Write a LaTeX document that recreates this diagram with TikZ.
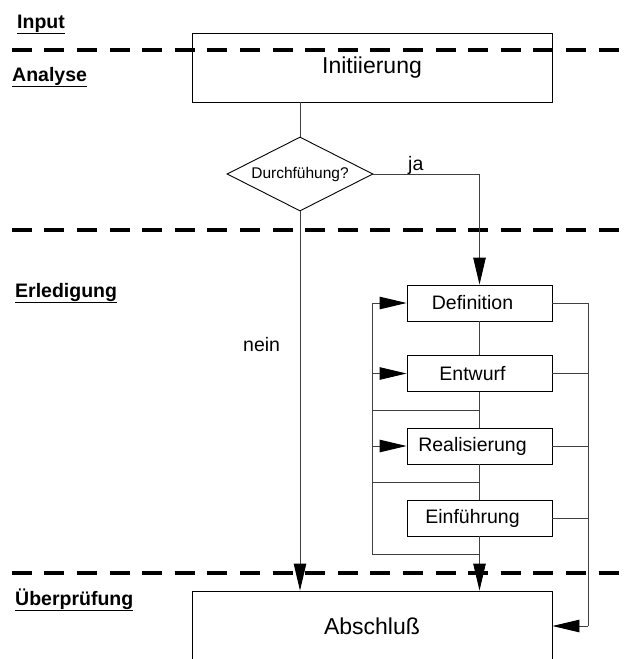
\documentclass[tikz,border=0pt]{standalone}
\usepackage{fontspec}
\setmainfont{Liberation Sans}
\usetikzlibrary{arrows.meta,shapes.geometric}
\begin{document}
\begin{tikzpicture}[x=1pt,y=-1pt,
  box/.style={draw=black,line width=0.9pt,inner sep=0pt,minimum width=145pt,minimum height=36pt},
  bigbox/.style={draw=black,line width=0.9pt,inner sep=0pt,minimum width=360pt,minimum height=69pt,
    font=\fontsize{23}{27}\selectfont},
  boxtext/.style={font=\fontsize{19.5}{22}\selectfont,inner sep=0pt,xshift=-7pt},
  conn/.style={draw=black!75,line width=0.9pt},
  arr/.style={conn,-{Triangle[length=27pt,width=12.5pt,color=black]}},
  phase/.style={anchor=base west,inner sep=0pt,font=\bfseries\fontsize{19.5}{22}\selectfont},
  lbl/.style={anchor=base west,inner sep=0pt,font=\fontsize{19.5}{22}\selectfont},
  sep/.style={line width=4.5pt,dash pattern=on 20pt off 12.6pt}]
\useasboundingbox (0,0) rectangle (630,659);
\clip (0,0) rectangle (630,659);

% phase separators
\draw[sep] (11.7,50) -- (619,50);
\draw[sep] (11.7,230) -- (619,230);
\draw[sep] (11.7,573) -- (619,573);

% phase names
\node[phase] (pin)  at (17,28)  {\underline{Input}};
\node[phase] (pana) at (12,81)  {\underline{Analyse}};
\node[phase] (perl) at (15,297) {\underline{Erledigung}};
\node[phase] (pueb) at (15,605) {\underline{Überprüfung}};

% main boxes
\node[bigbox] (init) at (372,67.5) {Initiierung};
\node[bigbox,minimum height=70pt] (abs) at (372,626) {Abschluß};
\node[diamond,draw=black,line width=0.9pt,aspect=2,inner sep=0pt,
  minimum width=146pt,minimum height=74pt,font=\fontsize{15.5}{18}\selectfont]
  (dia) at (300,174) {Durchfühung?};

% work steps
\node[box,label={[boxtext]center:Definition}]   (def)  at (479.5,303) {};
\node[box,label={[boxtext]center:Entwurf}]      (ent)  at (479.5,373.5) {};
\node[box,label={[boxtext]center:Realisierung}] (real) at (479.5,446) {};
\node[box,label={[boxtext]center:Einführung}]   (einf) at (479.5,518) {};

% decision
\draw[conn] (init.south -| dia.north) -- (dia.north);
\draw[arr] (dia.east) -| (def.north);
\draw[arr] (dia.south) -- (dia.south |- abs.north);
\node[lbl] (ja)   at (408,170) {ja};
\node[lbl] (nein) at (243,351) {nein};

% step sequence
\draw[conn] (def.south) -- (ent.north);
\draw[conn] (ent.south) -- (real.north);
\draw[conn] (real.south) -- (einf.north);
\draw[arr] (einf.south) -- (einf.south |- abs.north);

% return loop on the left
\coordinate (lt) at (372,303);
\coordinate (lb) at (372,554);
\coordinate (j1) at (479.5,410);
\coordinate (j2) at (479.5,482);
\draw[conn] (einf.south |- lb) -- (lb) -- (lt);
\draw[conn] (j1) -- (j1 -| lt);
\draw[conn] (j2) -- (j2 -| lt);
\draw[arr] (lt) -- (def.west);
\draw[arr] (lt |- ent.west) -- (ent.west);
\draw[arr] (lt |- real.west) -- (real.west);

% exit line on the right
\coordinate (rt) at (588,303);
\coordinate (rb) at (588,626);
\draw[conn] (def.east) -- (rt) -- (rb);
\draw[conn] (ent.east) -- (ent.east -| rt);
\draw[conn] (real.east) -- (real.east -| rt);
\draw[conn] (einf.east) -- (einf.east -| rt);
\draw[arr] (rb) -- (rb -| abs.east);
\end{tikzpicture}
\end{document}
